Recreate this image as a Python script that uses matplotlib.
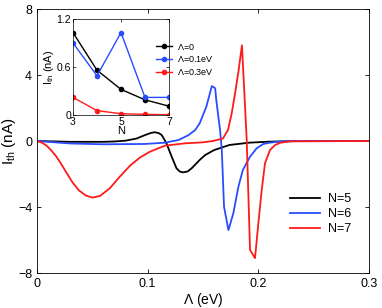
import matplotlib.pyplot as plt
import numpy as np

plt.rcParams['font.family'] = ['Liberation Sans', 'DejaVu Sans']
plt.rcParams['mathtext.fontset'] = 'custom'
plt.rcParams['mathtext.rm'] = 'Liberation Sans'
plt.rcParams['mathtext.it'] = 'Liberation Sans'

# main panel data
lam5 = [0.0, 0.03, 0.06, 0.07, 0.08, 0.09, 0.0976, 0.1035, 0.1066, 0.11, 0.1127, 0.117,
        0.1217, 0.126, 0.129, 0.132, 0.136, 0.1398, 0.147, 0.152, 0.16, 0.174, 0.192,
        0.21, 0.23, 0.3]
i5 = [0.0, -0.05, -0.05, -0.03, 0.02, 0.15, 0.36, 0.5, 0.53, 0.48, 0.36, -0.14,
      -0.95, -1.65, -1.85, -1.9, -1.85, -1.65, -1.15, -0.85, -0.55, -0.24, -0.1,
      -0.04, -0.01, 0.0]

lam6 = [0.0, 0.03, 0.06, 0.0976, 0.1157, 0.128, 0.137, 0.143, 0.147, 0.153, 0.158, 0.161,
        0.162, 0.1654, 0.167, 0.169, 0.173, 0.1774, 0.182, 0.186, 0.1925, 0.1985, 0.2045,
        0.2105, 0.22, 0.23, 0.3]
i6 = [0.0, -0.15, -0.2, -0.18, -0.1, 0.06, 0.36, 0.67, 1.07, 2.08, 3.33, 3.2,
      2.48, 0.67, -0.55, -3.98, -5.4, -4.38, -2.77, -1.76, -0.95, -0.44, -0.18,
      -0.1, -0.03, 0.0, 0.0]

lam7 = [0.0, 0.005, 0.009, 0.013, 0.017, 0.021, 0.026, 0.032, 0.038, 0.044, 0.050, 0.057,
        0.066, 0.075, 0.084, 0.093, 0.102, 0.1157, 0.134, 0.15, 0.159, 0.168, 0.1726,
        0.176, 0.179, 0.182, 0.1852, 0.1895, 0.1925, 0.197, 0.200, 0.203, 0.206, 0.2105,
        0.215, 0.22, 0.23, 0.3]
i7 = [0.0, -0.12, -0.3, -0.58, -0.9, -1.3, -1.85, -2.5, -3.0, -3.3, -3.43, -3.33,
      -2.85, -2.15, -1.5, -1.0, -0.65, -0.28, -0.14, -0.08, 0.0, 0.15, 0.67,
      1.7, 2.9, 4.2, 5.8, 0.06, -6.6, -7.1, -5.0, -3.0, -1.35, -0.55,
      -0.25, -0.1, -0.02, 0.0]

# inset data
n_vals = [3, 4, 5, 6, 7]
ith_0 = [1.03, 0.56, 0.32, 0.19, 0.11]
ith_01 = [0.90, 0.49, 1.03, 0.22, 0.22]
ith_03 = [0.22, 0.055, 0.016, 0.008, 0.004]

fig = plt.figure(figsize=(3.82, 3.08), dpi=100)
ax = fig.add_axes([37 / 382, 1 - 273 / 308, 332 / 382, 264 / 308])

ax.plot(lam5, i5, color="black", lw=1.3, label="N=5")
ax.plot(lam6, i6, color="#2a4cff", lw=1.3, label="N=6")
ax.plot(lam7, i7, color="#ff1a1a", lw=1.3, label="N=7")

ax.set_xlim(0, 0.3)
ax.set_ylim(-8, 8)
ax.set_xticks([0, 0.1, 0.2, 0.3])
ax.set_xticklabels(["0", "0.1", "0.2", "0.3"])
ax.set_yticks([-8, -4, 0, 4, 8])
ax.set_yticklabels(["\u22128", "\u22124", "0", "4", "8"])
ax.tick_params(direction="in", top=True, right=True, labelsize=9, length=3, width=0.6)
for s in ax.spines.values():
    s.set_linewidth(0.6)
ax.set_xlabel(r"$\Lambda$ (eV)", fontsize=10, labelpad=1)
ax.set_ylabel(r"I$_{\mathrm{th}}$ (nA)", fontsize=11, labelpad=0)
ax.legend(loc="lower right", bbox_to_anchor=(0.98, 0.10), frameon=False, fontsize=9,
          handlelength=2.4, labelspacing=0.25, handletextpad=0.6)

# inset
ins = fig.add_axes([73 / 382, 1 - 115 / 308, 96 / 382, 96 / 308])
ins.plot(n_vals, ith_0, color="black", marker="o", ms=3, lw=1.0, label=r"$\Lambda$=0")
ins.plot(n_vals, ith_01, color="#2a4cff", marker="o", ms=3, lw=1.0, label=r"$\Lambda$=0.1eV")
ins.plot(n_vals, ith_03, color="#ff1a1a", marker="o", ms=3, lw=1.0, label=r"$\Lambda$=0.3eV")
ins.set_xlim(3, 7)
ins.set_ylim(0, 1.2)
ins.set_xticks([3, 5, 7])
ins.set_yticks([0, 0.6, 1.2])
ins.set_yticklabels(["0", "0.6", "1.2"])
ins.tick_params(direction="in", top=True, right=True, labelsize=7.5, length=2, width=0.5, pad=1.5)
for s in ins.spines.values():
    s.set_linewidth(0.5)
ins.set_xlabel("N", fontsize=8, labelpad=-1)
ins.set_ylabel(r"I$_{\mathrm{th}}$ (nA)", fontsize=8, labelpad=0)
ins.legend(loc="upper left", bbox_to_anchor=(0.78, 0.85), frameon=False, fontsize=6.5,
           handlelength=1.8, labelspacing=0.3, handletextpad=0.5)

fig.savefig("out.png", dpi=100)
